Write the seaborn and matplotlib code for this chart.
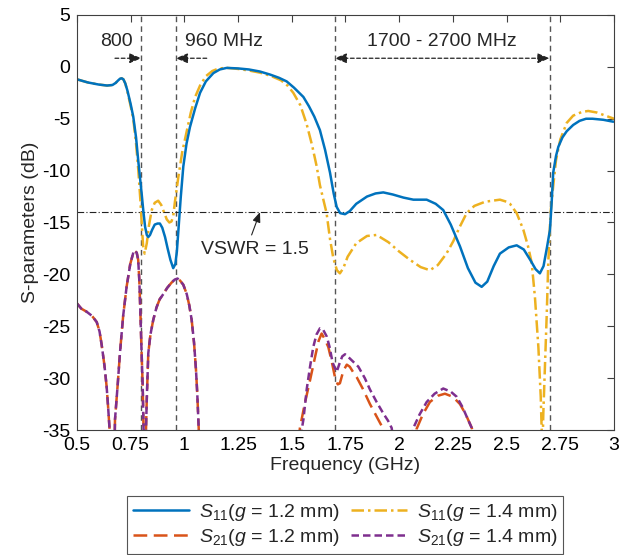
import matplotlib
matplotlib.use('Agg')
import matplotlib.pyplot as plt
from matplotlib.lines import Line2D
import seaborn as sns

# ---------------- data ----------------
s11_a_x = [0.50, 0.55, 0.60, 0.64, 0.665, 0.68, 0.692, 0.70, 0.708, 0.716, 0.725, 0.735, 0.75, 0.762,
           0.775, 0.785, 0.793,
           0.801, 0.809, 0.817, 0.825, 0.832, 0.84, 0.85, 0.862, 0.875, 0.886, 0.897, 0.91, 0.922,
           0.935, 0.948, 0.958, 0.965, 0.972, 0.983, 0.995, 1.01, 1.026, 1.05, 1.073, 1.10, 1.135,
           1.165, 1.197, 1.25, 1.30, 1.352, 1.40, 1.44, 1.476, 1.51, 1.554, 1.58, 1.605, 1.631,
           1.655, 1.678, 1.695, 1.709, 1.725, 1.748, 1.77, 1.80, 1.85, 1.89, 1.926, 1.97, 2.02,
           2.066, 2.128, 2.17, 2.205, 2.24, 2.283, 2.32, 2.355, 2.384, 2.41, 2.44, 2.469, 2.51,
           2.547, 2.58, 2.61, 2.635, 2.655, 2.672, 2.688, 2.702, 2.71, 2.717, 2.73, 2.741, 2.76,
           2.78, 2.81, 2.84, 2.87, 2.90, 2.95, 3.00]
s11_a_y = [-1.2, -1.5, -1.7, -1.8, -1.75, -1.55, -1.3, -1.15, -1.1, -1.2, -1.6, -2.3, -3.6, -4.8,
           -6.8, -9.0, -10.6,
           -12.2, -13.9, -15.4, -16.2, -16.4, -16.2, -15.7, -15.2, -15.1, -15.1, -15.5, -16.4, -17.5,
           -18.6, -19.4, -19.0, -17.8, -15.8, -12.6, -9.6, -7.4, -5.8, -4.0, -2.5, -1.4, -0.6,
           -0.25, -0.1, -0.15, -0.25, -0.45, -0.75, -1.05, -1.4, -2.0, -2.9, -3.8, -4.8, -6.1,
           -8.0, -10.2, -12.2, -13.5, -14.1, -14.2, -13.9, -13.2, -12.5, -12.2, -12.1, -12.3, -12.6,
           -12.8, -12.8, -13.2, -13.8, -15.2, -17.3, -19.4, -20.8, -21.2, -20.7, -19.2, -18.0, -17.4,
           -17.2, -17.6, -18.6, -19.5, -19.9, -19.2, -17.4, -15.7, -13.0, -10.2, -8.6, -7.7, -6.8,
           -6.2, -5.6, -5.2, -5.0, -5.0, -5.1, -5.3]

s11_b_x = [0.50, 0.55, 0.60, 0.64, 0.665, 0.68, 0.692, 0.70, 0.708, 0.716, 0.725, 0.735, 0.75, 0.762,
           0.775, 0.785, 0.795,
           0.802, 0.808, 0.815, 0.825, 0.835, 0.848, 0.862, 0.878, 0.892, 0.905, 0.918, 0.93, 0.94,
           0.948, 0.956, 0.964, 0.972, 0.99, 1.011, 1.03, 1.05, 1.073, 1.10, 1.13, 1.16, 1.20,
           1.25, 1.30, 1.35, 1.40, 1.45, 1.48, 1.507, 1.54, 1.569, 1.595, 1.616, 1.631, 1.647,
           1.662, 1.678, 1.693, 1.71, 1.724, 1.74, 1.76, 1.80, 1.85, 1.895, 1.95, 2.00, 2.05,
           2.10, 2.143, 2.18, 2.22, 2.252, 2.28, 2.314, 2.35, 2.40, 2.469, 2.50, 2.516, 2.547,
           2.578, 2.60, 2.617, 2.632, 2.648, 2.659, 2.663, 2.667, 2.671, 2.679, 2.687, 2.694,
           2.705, 2.717, 2.73, 2.75, 2.78, 2.81, 2.85, 2.88, 2.92, 2.96, 3.00]
s11_b_y = [-1.2, -1.5, -1.7, -1.8, -1.75, -1.55, -1.3, -1.15, -1.1, -1.2, -1.6, -2.4, -3.8, -5.0,
           -7.4, -9.8, -12.8,
           -15.3, -17.3, -18.0, -17.0, -15.3, -13.8, -13.1, -12.9, -13.3, -14.0, -14.7, -15.0, -14.9,
           -14.4, -13.0, -11.8, -10.6, -8.2, -6.2, -4.4, -2.9, -1.8, -0.9, -0.4, -0.15, -0.1,
           -0.2, -0.35, -0.55, -0.85, -1.3, -1.8, -2.5, -3.7, -5.5, -7.6, -9.6, -11.4, -12.8,
           -14.1, -16.6, -18.4, -19.6, -19.9, -19.4, -18.3, -17.0, -16.3, -16.2, -16.9, -17.8, -18.6,
           -19.3, -19.6, -19.1, -18.0, -16.8, -15.5, -14.1, -13.4, -13.0, -12.8, -13.0, -13.2, -14.1,
           -15.7, -17.3, -18.9, -22.2, -27.0, -31.8, -34.7, -37.0, -33.4, -28.6, -23.8, -18.9,
           -14.0, -11.5, -9.0, -7.0, -5.4, -4.7, -4.35, -4.25, -4.4, -4.7, -5.0]

# S21 low-band part (both gaps overlap there)
s21_low_x = [0.50, 0.52, 0.545, 0.57, 0.592, 0.605, 0.615, 0.628, 0.638, 0.645, 0.652, 0.66, 0.672,
             0.677, 0.69, 0.70, 0.715, 0.731, 0.748, 0.765, 0.778, 0.785, 0.79, 0.795, 0.80, 0.806,
             0.81, 0.815, 0.82, 0.825, 0.832, 0.842, 0.855, 0.87, 0.885, 0.902, 0.92, 0.94, 0.955,
             0.968, 0.98, 0.995, 1.011, 1.023, 1.034, 1.045, 1.054, 1.06, 1.065, 1.07, 1.08, 1.30]
s21_low_y = [-22.8, -23.3, -23.6, -24.0, -24.6, -25.5, -26.8, -28.8, -30.8, -32.8, -35.0, -40.0, -40.0,
             -34.0, -30.5, -27.6, -24.0, -21.2, -19.0, -17.7, -17.9, -18.6, -20.5, -23.5, -27.0, -30.8,
             -35.0, -40.0, -36.0, -32.0, -27.6, -25.8, -24.4, -23.2, -22.4, -21.9, -21.3, -20.8, -20.5,
             -20.4, -20.6, -21.0, -21.9, -23.0, -24.4, -26.6, -29.2, -31.5, -34.0, -36.5, -45.0, -50.0]

s21_a_x = [1.52, 1.538, 1.56, 1.585, 1.61, 1.625, 1.639, 1.655, 1.67, 1.685, 1.701, 1.714, 1.724,
           1.74, 1.756, 1.77, 1.785, 1.802, 1.83, 1.864, 1.895, 1.926, 1.94, 1.97, 2.05, 2.07,
           2.081, 2.11, 2.143, 2.18, 2.213, 2.25, 2.283, 2.31, 2.338, 2.35, 2.40, 3.00]
s21_a_y = [-38.0, -34.8, -32.5, -30.2, -27.8, -26.4, -25.7, -26.3, -27.0, -28.3, -29.9, -30.6, -30.5,
           -29.3, -28.7, -28.9, -29.4, -29.9, -31.0, -32.5, -33.7, -34.9, -36.0, -40.0, -40.0, -36.5,
           -34.9, -33.5, -32.3, -31.7, -31.5, -31.8, -32.5, -33.5, -34.8, -36.0, -42.0, -45.0]

s21_b_x = [1.535, 1.546, 1.554, 1.57, 1.585, 1.60, 1.615, 1.631, 1.645, 1.663, 1.676, 1.69, 1.709,
           1.722, 1.735, 1.748, 1.77, 1.79, 1.81, 1.84, 1.864, 1.895, 1.926, 1.948, 1.965, 1.98,
           2.03, 2.05, 2.066, 2.095, 2.128, 2.165, 2.205, 2.24, 2.268, 2.295, 2.314, 2.338, 2.35,
           2.40, 3.00]
s21_b_y = [-38.0, -35.0, -34.0, -31.0, -28.9, -27.0, -25.8, -25.2, -25.3, -26.0, -27.0, -28.5, -29.4,
           -28.6, -27.9, -27.7, -28.1, -28.5, -28.9, -30.0, -31.1, -32.3, -33.4, -34.1, -34.8, -37.0,
           -40.0, -37.0, -34.8, -33.5, -32.3, -31.5, -31.0, -31.3, -31.8, -32.8, -33.7, -34.8, -36.5,
           -42.0, -45.0]

band_edges = [0.8, 0.96, 1.7, 2.7]
vswr_db = -13.98
x_ticks = [0.5, 0.75, 1, 1.25, 1.5, 1.75, 2, 2.25, 2.5, 2.75, 3]
x_tick_labels = ['0.5', '0.75', '1', '1.25', '1.5', '1.75', '2', '2.25', '2.5', '2.75', '3']
y_ticks = [5, 0, -5, -10, -15, -20, -25, -30, -35]
labels = [r'$S_{11}$($g$ = 1.2 mm)', r'$S_{21}$($g$ = 1.2 mm)',
          r'$S_{11}$($g$ = 1.4 mm)', r'$S_{21}$($g$ = 1.4 mm)']

# ---------------- style ----------------
sns.set_theme(style='white')
plt.rcParams['font.family'] = ['Liberation Sans', 'DejaVu Sans']
plt.rcParams['mathtext.fontset'] = 'custom'
plt.rcParams['mathtext.rm'] = 'Liberation Sans'
plt.rcParams['mathtext.it'] = 'Liberation Sans:italic'
plt.rcParams['mathtext.bf'] = 'Liberation Sans:bold'

FS = 14
C_BLUE, C_ORANGE, C_YELLOW, C_PURPLE = '#0072BD', '#D95319', '#EDB120', '#7E2F8E'
LW = 1.8

fig = plt.figure(figsize=(6.32, 5.55), dpi=100)
ax = fig.add_axes([0.1218, 0.2252, 0.8497, 0.7478])

s21_a_full_x = s21_low_x + s21_a_x
s21_a_full_y = s21_low_y + s21_a_y
s21_b_full_x = s21_low_x + s21_b_x
s21_b_full_y = s21_low_y + s21_b_y

series = [
    (s21_a_full_x, s21_a_full_y, C_ORANGE, (5.5, 2.6)),
    (s21_b_full_x, s21_b_full_y, C_PURPLE, (3.0, 1.6)),
    (s11_b_x, s11_b_y, C_YELLOW, (5.0, 1.6, 1.0, 1.6)),
    (s11_a_x, s11_a_y, C_BLUE, None),
]
for xs, ys, col, dash in series:
    sns.lineplot(x=xs, y=ys, ax=ax, color=col, lw=LW, estimator=None, sort=False)
    ln = ax.lines[-1]
    if dash is not None:
        ln.set_dashes(dash)
    ln.set_solid_capstyle('butt')
    ln.set_solid_joinstyle('round')

# reference lines
for xe in band_edges:
    ax.axvline(xe, color='#555555', lw=1.0, ls=(0, (4, 3)), zorder=1)
ax.axhline(vswr_db, color='#222222', lw=0.8, ls=(0, (6, 2, 1, 2)), zorder=1)

# annotations
ax.text(0.686, 2.4, '800', ha='center', va='center', fontsize=FS)
ax.text(1.184, 2.4, '960 MHz', ha='center', va='center', fontsize=FS)
ax.text(2.198, 2.4, '1700 - 2700 MHz', ha='center', va='center', fontsize=FS)
arrow_kw = dict(arrowstyle='-|>,head_length=0.6,head_width=0.25', color='#222222', lw=0.9,
                ls=(0, (3, 2)), shrinkA=0, shrinkB=0)
ax.annotate('', xy=(0.8, 0.83), xytext=(0.677, 0.83), arrowprops=arrow_kw)
ax.annotate('', xy=(0.96, 0.83), xytext=(1.104, 0.83), arrowprops=arrow_kw)
ax.annotate('', xy=(1.7, 0.83), xytext=(2.7, 0.83),
            arrowprops=dict(arrowstyle='<|-|>,head_length=0.6,head_width=0.25', color='#222222',
                            lw=0.9, ls=(0, (3, 2)), shrinkA=0, shrinkB=0))
ax.text(1.327, -17.65, 'VSWR = 1.5', ha='center', va='center', fontsize=FS)
ax.annotate('', xy=(1.352, -14.0), xytext=(1.313, -16.2),
            arrowprops=dict(arrowstyle='-|>,head_length=0.5,head_width=0.2', color='#222222',
                            lw=0.8, shrinkA=0, shrinkB=0))

# axes
ax.set_xlim(0.5, 3)
ax.set_ylim(-35, 5)
ax.set_xticks(x_ticks)
ax.set_xticklabels(x_tick_labels)
ax.set_yticks(y_ticks)
ax.set_yticklabels([str(v) for v in y_ticks])
ax.tick_params(direction='in', top=True, right=True, length=5, width=0.8, color='#404040',
               labelsize=FS, pad=5, labelcolor='black')
for sp in ax.spines.values():
    sp.set_color('#404040')
    sp.set_linewidth(0.8)
ax.set_xlabel('Frequency (GHz)', fontsize=FS, labelpad=2)
ax.set_ylabel('S-parameters (dB)', fontsize=FS, labelpad=2)

leg_handles = [
    Line2D([], [], color=C_BLUE, lw=LW),
    Line2D([], [], color=C_ORANGE, lw=LW, dashes=(5.5, 2.6)),
    Line2D([], [], color=C_YELLOW, lw=LW, dashes=(5.0, 1.6, 1.0, 1.6)),
    Line2D([], [], color=C_PURPLE, lw=LW, dashes=(3.0, 1.6)),
]
leg = fig.legend(leg_handles, labels, ncol=2, loc='upper center', bbox_to_anchor=(0.546, 0.106),
                 fontsize=FS, frameon=True, fancybox=False, framealpha=1, edgecolor='#555555',
                 handlelength=2.9, columnspacing=0.6, handletextpad=0.5, labelspacing=0.2,
                 borderpad=0.3, borderaxespad=0)
leg.get_frame().set_linewidth(0.8)

fig.savefig('out.png', dpi=100)
